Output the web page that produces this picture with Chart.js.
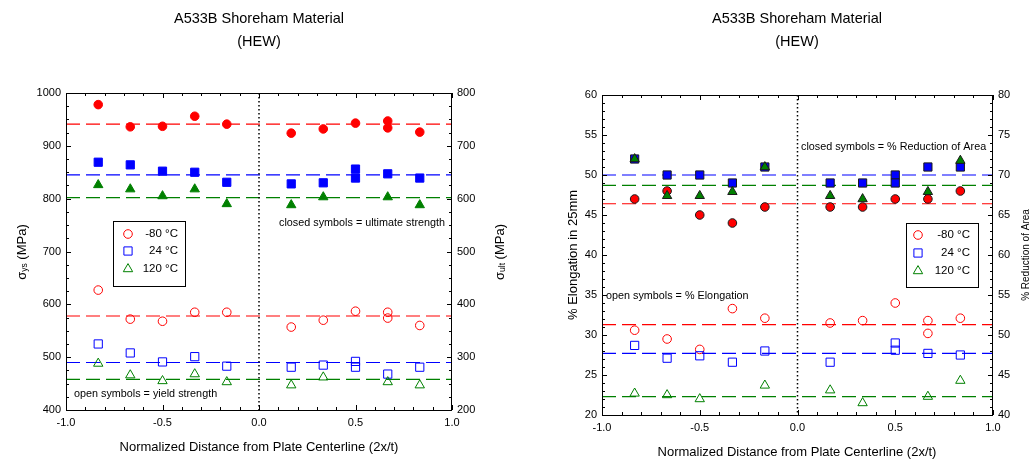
<!DOCTYPE html>
<html>
<head>
<meta charset="utf-8">
<script src="https://cdn.jsdelivr.net/npm/chart.js@4.4.1/dist/chart.umd.min.js"></script>
<style>
html,body{margin:0;padding:0;background:#fff;width:1036px;height:468px;overflow:hidden;}
canvas{position:absolute;top:0;}
#c1{left:0;} #c2{left:518px;}
</style>
</head>
<body>
<canvas id="c1" width="518" height="468"></canvas>
<canvas id="c2" width="518" height="468"></canvas>
<script>
// ---------- DATA ----------
const chartTitle = ["A533B Shoreham Material", "(HEW)"];
const xTitle = "Normalized Distance from Plate Centerline (2x/t)";
const tempLabels = ["-80 \u00B0C", "24 \u00B0C", "120 \u00B0C"];

// Left chart: yield strength (open, left axis) and ultimate strength (closed, right axis), MPa
const ys_m80_x = [-0.833,-0.667,-0.5,-0.333,-0.167,0.167,0.333,0.5,0.667,0.667,0.833];
const ys_m80   = [627,572,568,585,585,557,570,587,585,574,560];
const ys_24_x  = [-0.833,-0.667,-0.5,-0.333,-0.167,0.167,0.333,0.5,0.5,0.667,0.833];
const ys_24    = [525,508,491,501,483,481,485,492,481,468,481];
const ys_120_x = [-0.833,-0.667,-0.5,-0.333,-0.167,0.167,0.333,0.667,0.833];
const ys_120   = [488,466,455,468,453,447,462,453,447];
const ys_avg   = [578,490,458];

const uts_m80_x = [-0.833,-0.667,-0.5,-0.333,-0.167,0.167,0.333,0.5,0.667,0.667,0.833];
const uts_m80   = [778,736,737,756,741,724,732,743,747,734,726];
const uts_24_x  = [-0.833,-0.667,-0.5,-0.333,-0.167,0.167,0.333,0.5,0.5,0.667,0.833];
const uts_24    = [669,664,652,650,631,628,630,656,639,647,639];
const uts_120_x = [-0.833,-0.667,-0.5,-0.333,-0.167,0.167,0.333,0.667,0.833];
const uts_120   = [626,618,605,618,590,588,603,603,588];
const uts_avg   = [741,645,602];

// Right chart: % elongation (open, left axis) and % reduction of area (closed, right axis)
const el_m80_x = [-0.833,-0.667,-0.5,-0.333,-0.167,0.167,0.333,0.5,0.667,0.667,0.833];
const el_m80   = [30.6,29.5,28.2,33.3,32.1,31.5,31.8,34.0,31.8,30.2,32.1];
const el_24_x  = [-0.833,-0.667,-0.5,-0.333,-0.167,0.167,0.5,0.5,0.667,0.833];
const el_24    = [28.7,27.1,27.4,26.6,28.0,26.6,29.0,28.1,27.7,27.5];
const el_120_x = [-0.833,-0.667,-0.5,-0.167,0.167,0.333,0.667,0.833];
const el_120   = [22.7,22.5,22.0,23.7,23.1,21.5,22.3,24.3];
const el_avg   = [31.3,27.7,22.3];

const ra_m80_x = [-0.833,-0.667,-0.5,-0.333,-0.167,0.167,0.333,0.5,0.667,0.833];
const ra_m80   = [67,68,65,64,66,66,66,67,67,68];
const ra_24_x  = [-0.833,-0.667,-0.5,-0.333,-0.167,0.167,0.333,0.5,0.5,0.667,0.833];
const ra_24    = [72,70,70,69,71,69,69,70,69,71,71];
const ra_120_x = [-0.833,-0.667,-0.5,-0.333,-0.167,0.167,0.333,0.667,0.833];
const ra_120   = [72,67.4,67.4,67.9,71,67.4,67.0,67.9,71.8];
const ra_avg   = [66.4,70.0,68.7];

// ---------- STYLE ----------
const RED = '#ff0000', BLUE = '#0000ff', GREEN = '#008000';
const COLORS = [RED, BLUE, GREEN];
const STYLES = ['circle', 'rect', 'triangle'];
const RADII = [4.3, 5.8, 5.4];
const FONT = 'Liberation Sans, Arial, sans-serif';

function pts(xs, ys){ return xs.map((x,i)=>({x:x, y:ys[i]})); }
function avgLine(v, axis, color){
  return {data:[{x:-1,y:v},{x:1,y:v}], yAxisID:axis, showLine:true, borderColor:color,
    borderWidth:1.1, borderDash:[14,6], pointRadius:0, fill:false, order:5};
}
function markers(xs, ys, k, axis, closed, edge){
  return {data:pts(xs,ys), yAxisID:axis, showLine:false, pointStyle:STYLES[k], pointRadius:RADII[k],
    pointBackgroundColor: closed ? COLORS[k] : 'rgba(0,0,0,0)',
    pointBorderColor: closed ? (edge || COLORS[k]) : COLORS[k],
    pointBorderWidth: 1, order: 3-k};
}

function drawRich(ctx, parts, cx, cy, rot){
  ctx.save();
  ctx.translate(cx, cy);
  if (rot) ctx.rotate(-Math.PI/2);
  let total = 0;
  parts.forEach(p=>{ ctx.font = p.size+'px '+FONT; p.w = ctx.measureText(p.t).width; total += p.w; });
  let x = -total/2;
  ctx.textBaseline = 'middle'; ctx.textAlign = 'left'; ctx.fillStyle = '#000';
  parts.forEach(p=>{ ctx.font = p.size+'px '+FONT; ctx.fillText(p.t, x, p.dy||0); x += p.w; });
  ctx.restore();
}

function makeDeco(cfg){
  return {
    id:'deco',
    afterDatasetsDraw(chart){
      const ctx = chart.ctx, a = chart.chartArea;
      const xs = chart.scales.x, yl = chart.scales.y, yr = chart.scales.y2;
      ctx.save();
      // zero dotted line
      ctx.strokeStyle = '#000'; ctx.lineWidth = 1.5; ctx.setLineDash([1.5,2.5]);
      const x0 = xs.getPixelForValue(0);
      ctx.beginPath(); ctx.moveTo(x0, a.top); ctx.lineTo(x0, a.bottom); ctx.stroke();
      ctx.setLineDash([]);
      // frame
      ctx.lineWidth = 1; ctx.strokeStyle = '#000';
      ctx.strokeRect(a.left+0.5, a.top+0.5, a.right-a.left-1, a.bottom-a.top);
      // x ticks
      ctx.beginPath();
      for (let i=-10;i<=10;i++){
        const v = i/10, px = Math.round(xs.getPixelForValue(v))+0.5;
        const len = (i%5===0) ? 5 : 3;
        ctx.moveTo(px, a.bottom); ctx.lineTo(px, a.bottom-len);
        ctx.moveTo(px, a.top); ctx.lineTo(px, a.top+len);
      }
      // y ticks
      const yt = (sc, minor, major, side)=>{
        for (let v=sc.min; v<=sc.max+1e-9; v+=minor){
          const py = Math.round(sc.getPixelForValue(v))+0.5;
          const isMaj = Math.abs(v/major - Math.round(v/major))<1e-6;
          const len = isMaj ? 5 : 3;
          if (side==='l'){ ctx.moveTo(a.left, py); ctx.lineTo(a.left+len, py); }
          else { ctx.moveTo(a.right, py); ctx.lineTo(a.right-len, py); }
        }
      };
      yt(yl, cfg.minor, cfg.major, 'l');
      yt(yr, cfg.minor, cfg.major, 'r');
      ctx.stroke();
      // titles
      ctx.fillStyle = '#000'; ctx.textAlign = 'center'; ctx.textBaseline = 'middle';
      ctx.font = '14.5px '+FONT;
      ctx.fillText(chartTitle[0], cfg.titleX, 19);
      ctx.fillText(chartTitle[1], cfg.titleX, 42);
      ctx.font = '13px '+FONT;
      ctx.fillText(xTitle, cfg.titleX, cfg.xTitleY);
      drawRich(ctx, cfg.leftTitle, cfg.leftTitleX, cfg.yTitleY, true);
      drawRich(ctx, cfg.rightTitle, cfg.rightTitleX, cfg.yTitleY, true);
      // annotations
      ctx.font = '10.8px '+FONT; ctx.fillStyle = '#000';
      cfg.notes.forEach(n=>{ ctx.textAlign = n.align; ctx.fillText(n.t, n.x, n.y); });
      // legend
      const L = cfg.legend;
      ctx.strokeStyle = '#000'; ctx.lineWidth = 1;
      ctx.strokeRect(L.x0+0.5, L.y0+0.5, L.x1-L.x0, L.y1-L.y0);
      ctx.textAlign = 'right'; ctx.font = '11.5px '+FONT;
      L.rows.forEach((ry,k)=>{
        ctx.strokeStyle = COLORS[k]; ctx.lineWidth = 1;
        ctx.beginPath();
        if (k===0){ ctx.arc(L.sx, ry, RADII[0], 0, Math.PI*2); }
        else if (k===1){ const s = RADII[1]*Math.SQRT1_2; ctx.rect(L.sx-s, ry-s, 2*s, 2*s); }
        else { const r = RADII[2]; ctx.moveTo(L.sx, ry-r); ctx.lineTo(L.sx+r*0.866, ry+r*0.5); ctx.lineTo(L.sx-r*0.866, ry+r*0.5); ctx.closePath(); }
        ctx.stroke();
        ctx.fillStyle = '#000';
        ctx.fillText(tempLabels[k], L.tx, ry);
      });
      ctx.restore();
    }
  };
}

function scaleOpts(min, max, step, pos, width, fmt){
  return {type:'linear', position:pos, min:min, max:max,
    afterFit: s=>{ s.width = width; },
    ticks:{stepSize:step, padding:5, color:'#000', font:{family:FONT, size:11}, callback: fmt || (v=>String(v))},
    grid:{display:false, drawTicks:false}, border:{display:false}};
}
function xOpts(h){
  return {type:'linear', position:'bottom', min:-1, max:1,
    afterFit: s=>{ s.height = h; },
    ticks:{stepSize:0.5, padding:6, color:'#000', maxRotation:0, autoSkip:false, font:{family:FONT, size:11},
      callback: v=>v.toFixed(1)},
    grid:{display:false, drawTicks:false}, border:{display:false}};
}

// ---------- LEFT CHART ----------
const leftDatasets = [
  markers(ys_120_x, ys_120, 2, 'y', false),
  markers(ys_24_x, ys_24, 1, 'y', false),
  markers(ys_m80_x, ys_m80, 0, 'y', false),
  markers(uts_120_x, uts_120, 2, 'y2', true),
  markers(uts_24_x, uts_24, 1, 'y2', true),
  markers(uts_m80_x, uts_m80, 0, 'y2', true),
  avgLine(ys_avg[0], 'y', RED), avgLine(ys_avg[1], 'y', BLUE), avgLine(ys_avg[2], 'y', GREEN),
  avgLine(uts_avg[0], 'y2', RED), avgLine(uts_avg[1], 'y2', BLUE), avgLine(uts_avg[2], 'y2', GREEN)
];
new Chart(document.getElementById('c1'), {
  type:'scatter',
  data:{datasets:leftDatasets},
  options:{
    responsive:false, animation:false, devicePixelRatio:1,
    layout:{padding:{top:93, left:0, right:0, bottom:0}},
    plugins:{legend:{display:false}, tooltip:{enabled:false}, title:{display:false}},
    scales:{
      x: xOpts(58),
      y: scaleOpts(400, 1000, 100, 'left', 66),
      y2: scaleOpts(200, 800, 100, 'right', 66)
    }
  },
  plugins:[makeDeco({
    minor:25, major:100, titleX:259, xTitleY:447, yTitleY:252,
    leftTitleX:22, rightTitleX:500,
    leftTitle:[{t:'\u03C3',size:13},{t:'ys',size:8.5,dy:3},{t:' (MPa)',size:13}],
    rightTitle:[{t:'\u03C3',size:13},{t:'ult',size:8.5,dy:3},{t:' (MPa)',size:13}],
    notes:[{t:'closed symbols = ultimate strength', x:445, y:223, align:'right'},
           {t:'open symbols = yield strength', x:74, y:394, align:'left'}],
    legend:{x0:113, y0:221, x1:185, y1:286, sx:128, tx:178, rows:[234,251,269]}
  })]
});

// ---------- RIGHT CHART ----------
const rightDatasets = [
  markers(el_120_x, el_120, 2, 'y', false),
  markers(el_24_x, el_24, 1, 'y', false),
  markers(el_m80_x, el_m80, 0, 'y', false),
  markers(ra_120_x, ra_120, 2, 'y2', true, '#1a1a1a'),
  markers(ra_24_x, ra_24, 1, 'y2', true, '#1a1a1a'),
  markers(ra_m80_x, ra_m80, 0, 'y2', true, '#1a1a1a'),
  avgLine(el_avg[0], 'y', RED), avgLine(el_avg[1], 'y', BLUE), avgLine(el_avg[2], 'y', GREEN),
  avgLine(ra_avg[0], 'y2', RED), avgLine(ra_avg[1], 'y2', BLUE), avgLine(ra_avg[2], 'y2', GREEN)
];
new Chart(document.getElementById('c2'), {
  type:'scatter',
  data:{datasets:rightDatasets},
  options:{
    responsive:false, animation:false, devicePixelRatio:1,
    layout:{padding:{top:95, left:0, right:0, bottom:0}},
    plugins:{legend:{display:false}, tooltip:{enabled:false}, title:{display:false}},
    scales:{
      x: xOpts(53),
      y: scaleOpts(20, 60, 5, 'left', 84),
      y2: scaleOpts(40, 80, 5, 'right', 43)
    }
  },
  plugins:[makeDeco({
    minor:1, major:5, titleX:279, xTitleY:452, yTitleY:255,
    leftTitleX:55, rightTitleX:508,
    leftTitle:[{t:'% Elongation in 25mm',size:13}],
    rightTitle:[{t:'% Reduction of Area',size:10}],
    notes:[{t:'closed symbols = % Reduction of Area', x:283, y:147, align:'left'},
           {t:'open symbols = % Elongation', x:88, y:296, align:'left'}],
    legend:{x0:388, y0:223, x1:460, y1:287, sx:400, tx:452, rows:[235,253,271]}
  })]
});
</script>
</body>
</html>
